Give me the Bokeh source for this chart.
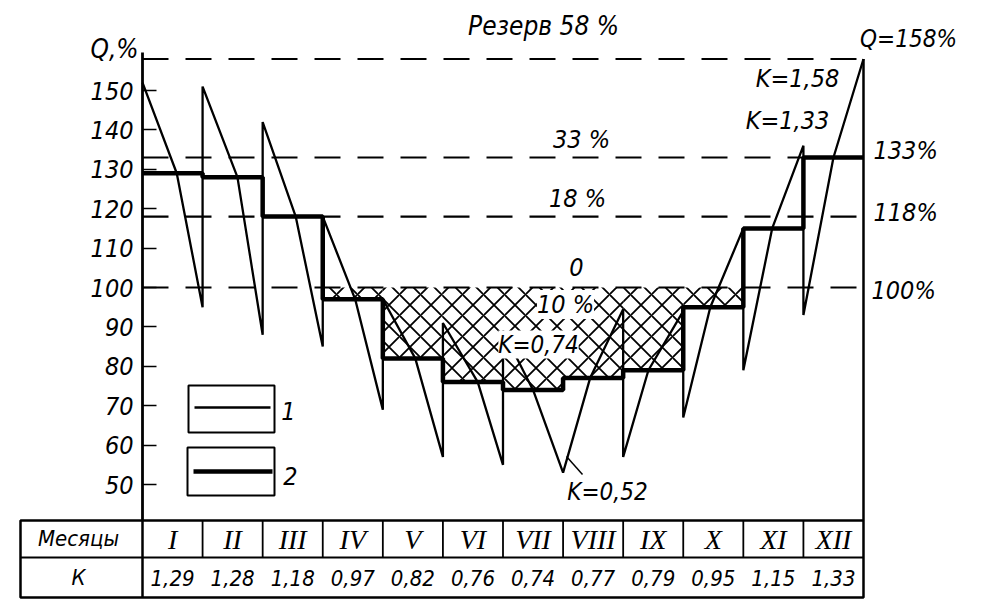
from bokeh.plotting import figure
from bokeh.models import Range1d, LinearAxis, FixedTicker, Label
from bokeh.embed import file_html
from bokeh.resources import INLINE
from bokeh.core.properties import value

# ---------------- data ----------------
months = ["I", "II", "III", "IV", "V", "VI", "VII", "VIII", "IX", "X", "XI", "XII"]
k_values = [1.29, 1.28, 1.18, 0.97, 0.82, 0.76, 0.74, 0.77, 0.79, 0.95, 1.15, 1.33]
k_labels = ["1,29", "1,28", "1,18", "0,97", "0,82", "0,76", "0,74", "0,77", "0,79", "0,95", "1,15", "1,33"]
# curve 1 (thin): value at month start, value at month end, share of month where it crosses curve 2
load_start = [152, 151, 142, 118, 97, 91, 89, 53, 57, 67, 79, 93]
load_end = [95, 88, 85, 69, 57, 55, 53, 94.5, 94, 115, 136, 158]
cross_frac = [0.57, 0.58, 0.55, 0.54, 0.54, 0.58, 0.50, 0.45, 0.42, 0.45, 0.48, 0.50]
reserve_levels = [158, 133, 118, 100]
y_ticks = [50, 60, 70, 80, 90, 100, 110, 120, 130, 140, 150]

FONT = "DejaVu Sans Condensed"
SERIF = "Liberation Serif"

W, H = 994, 604
# pixel (picture) -> data helpers for layout of annotations
X0_PX, XSCALE = 142.0, 60.083
Y100_PX, YSCALE = 287.0, 3.94
def X(px):
    return (px - X0_PX) / XSCALE
def Y(py):
    return 100 - (py - Y100_PX) / YSCALE

p = figure(width=W, height=H, output_backend="svg", toolbar_location=None,
           x_range=Range1d(X(0), X(W)), y_range=Range1d(Y(H), Y(0)),
           x_axis_type=None, y_axis_type=None, min_border=0)
p.outline_line_color = None
p.xgrid.visible = False
p.ygrid.visible = False
p.background_fill_color = "white"
p.border_fill_color = "white"

steps = [k * 100 for k in k_values]
table_top, table_mid, table_bot = Y(520), Y(557), Y(597)

# hatched deficit area (curve 2 below 100 %)
hl, hr, hb, ht = [], [], [], []
for i, s in enumerate(steps):
    if s < 100:
        hl.append(i); hr.append(i + 1); hb.append(s); ht.append(100)
p.quad(left=hl, right=hr, bottom=hb, top=ht, fill_color="white", line_color=None,
       hatch_pattern="x", hatch_color="black", hatch_scale=21, hatch_weight=1.8)

# reserve dashed levels
p.segment(x0=[0] * len(reserve_levels), x1=[12] * len(reserve_levels),
          y0=reserve_levels, y1=reserve_levels, line_color="black", line_width=2.2,
          line_dash="26 17")

# right vertical border
p.segment(x0=[12], x1=[12], y0=[table_top], y1=[reserve_levels[0]], line_color="black", line_width=2.5)

# curve 1 (thin saw-tooth)
xs, ys = [], []
for i in range(12):
    xs += [i, i + cross_frac[i], i + 1]
    ys += [load_start[i], steps[i], load_end[i]]
p.line(xs, ys, line_color="black", line_width=2.3)

# curve 2 (thick steps)
p.step(x=list(range(13)), y=steps + [steps[-1]], mode="after", line_color="black", line_width=4.5)

# y axis
ax = LinearAxis(fixed_location=0, bounds=(table_top, Y(52)), ticker=FixedTicker(ticks=y_ticks),
                major_tick_in=14, major_tick_out=0, minor_tick_in=0, minor_tick_out=0,
                axis_line_width=2.8, major_tick_line_width=1.6, major_label_standoff=9,
                major_label_text_font=FONT, major_label_text_font_style="italic",
                major_label_text_font_size="25px", major_label_text_color="black")
p.add_layout(ax, "left")

# legend (manual, boxes with sample lines)
p.quad(left=[X(188), X(187)], right=[X(274), X(274)], top=[Y(385), Y(447)], bottom=[Y(432), Y(495)],
       fill_color=None, line_color="black", line_width=2)
p.segment(x0=[X(194)], x1=[X(270)], y0=[Y(407)], y1=[Y(407)], line_color="black", line_width=2.3)
p.segment(x0=[X(193)], x1=[X(272)], y0=[Y(471)], y1=[Y(471)], line_color="black", line_width=4.5)

# leader for K=0,52
p.segment(x0=[X(566)], x1=[X(582)], y0=[Y(456)], y1=[Y(474)], line_color="black", line_width=1.5)

# table
p.quad(left=[X(20)], right=[12], top=[table_top], bottom=[table_bot], fill_color=None,
       line_color="black", line_width=2.5)
p.segment(x0=[X(20)], x1=[12], y0=[table_mid], y1=[table_mid], line_color="black", line_width=2.2)
p.segment(x0=[0], x1=[0], y0=[table_top], y1=[table_bot], line_color="black", line_width=2.5)
p.segment(x0=list(range(1, 12)), x1=list(range(1, 12)), y0=[table_top] * 11, y1=[table_mid] * 11,
          line_color="black", line_width=1.8)
centers = [i + 0.5 for i in range(12)]
p.text(x=centers, y=[(table_top + table_mid) / 2] * 12, text=months, text_align="center",
       text_baseline="middle", text_font=value(SERIF), text_font_style="italic",
       text_font_size="28px", text_color="black")
p.text(x=centers, y=[(table_mid + table_bot) / 2] * 12, text=k_labels, text_align="center",
       text_baseline="middle", text_font=value(FONT), text_font_style="italic",
       text_font_size="22px", text_color="black")

def lab(txt, px, py, size="24px", align="center", bg=None):
    kw = {}
    if bg:
        kw = dict(background_fill_color=bg, padding=0)
    p.add_layout(Label(x=X(px), y=Y(py), text=txt, text_align=align, text_baseline="middle",
                       text_font=FONT, text_font_style="italic", text_font_size=size,
                       text_color="black", **kw))

lab("Месяцы", 78, 538, "22px")
lab("К", 78, 577, "22px")
lab("Резерв 58 %", 543, 25, "26px")
lab("Q,%", 114, 48, "26px")
lab("Q=158%", 908, 38, "24px")
lab("K=1,58", 797, 78, "25px")
lab("K=1,33", 787, 120, "25px")
lab("133%", 873, 150, "25px", "left")
lab("118%", 873, 212, "25px", "left")
lab("100%", 871, 290, "25px", "left")
lab("33 %", 581, 139, "25px")
lab("18 %", 577, 198, "25px")
lab("0", 576, 266, "25px")
lab("10 %", 565, 304, "25px", bg="white")
lab("K=0,74", 538, 344, "24px", bg="white")
lab("K=0,52", 607, 491, "24px")
lab("1", 288, 410, "25px")
lab("2", 290, 475, "25px")

open("out.html", "w").write(file_html(p, INLINE))
